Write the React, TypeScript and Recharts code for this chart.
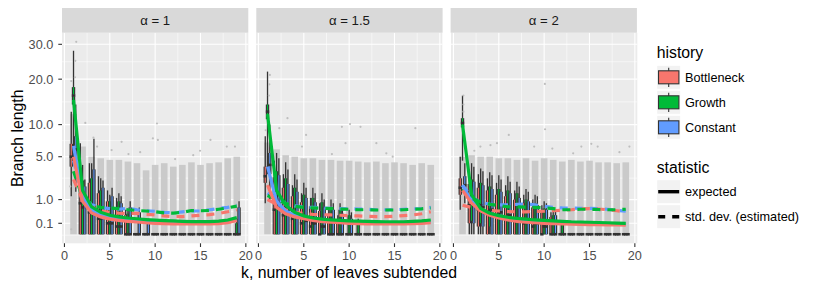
import React from 'react';
import { ComposedChart, CartesianGrid, XAxis, YAxis, Scatter, ErrorBar, Line } from 'recharts';

type Box = [number, number, number, number, number]; // lo whisker, q1, median, q3, hi whisker

const K = [1, 2, 3, 4, 5, 6, 7, 8, 9, 10, 11, 12, 13, 14, 15, 16, 17, 18, 19];
const X_TICKS = [0, 5, 10, 15, 20];
const X_MINOR = [2.5, 7.5, 12.5, 17.5];
const Y_TICKS = [0.1, 1, 5, 10, 20, 30];
const Y_MINOR = [-0.0007, 0.433, 2.618, 7.285, 14.57, 24.75];
const FACET_LABELS = ['α = 1', 'α = 1.5', 'α = 2'];

const RED = '#F8766D';
const GREEN = '#00BA38';
const BLUE = '#619CFF';
const DARK = '#333333';

// expected (solid) and std. dev. (dashed) per history
const expA1 = {
  Bottleneck: [5.0, 0.9, 0.38, 0.25, 0.19, 0.16, 0.14, 0.125, 0.11, 0.1, 0.095, 0.09, 0.09, 0.088, 0.088, 0.09, 0.095, 0.11, 0.16],
  Growth: [15, 1.6, 0.62, 0.4, 0.3, 0.25, 0.22, 0.2, 0.18, 0.165, 0.155, 0.148, 0.14, 0.135, 0.132, 0.135, 0.145, 0.17, 0.23],
  Constant: [6.5, 1.2, 0.5, 0.32, 0.25, 0.2, 0.17, 0.155, 0.14, 0.13, 0.12, 0.115, 0.11, 0.108, 0.108, 0.11, 0.12, 0.14, 0.19],
};
const sdA1 = {
  Bottleneck: [2.5, 0.95, 0.62, 0.45, 0.4, 0.37, 0.36, 0.36, 0.33, 0.31, 0.28, 0.26, 0.26, 0.28, 0.3, 0.32, 0.36, 0.42, 0.5],
  Growth: [3.3, 1.1, 0.68, 0.6, 0.57, 0.55, 0.5, 0.47, 0.45, 0.42, 0.38, 0.37, 0.4, 0.47, 0.46, 0.47, 0.52, 0.58, 0.66],
  Constant: [4.5, 1.2, 0.72, 0.6, 0.55, 0.52, 0.56, 0.5, 0.46, 0.44, 0.4, 0.38, 0.42, 0.45, 0.45, 0.5, 0.55, 0.6, 0.7],
};
const expA15 = {
  Bottleneck: [2.0, 0.6, 0.35, 0.25, 0.2, 0.16, 0.13, 0.12, 0.11, 0.1, 0.095, 0.09, 0.09, 0.09, 0.09, 0.09, 0.095, 0.1, 0.11],
  Growth: [12, 1.6, 0.7, 0.4, 0.28, 0.22, 0.19, 0.17, 0.16, 0.15, 0.145, 0.14, 0.135, 0.13, 0.13, 0.13, 0.14, 0.15, 0.17],
  Constant: [3.8, 0.9, 0.45, 0.3, 0.23, 0.19, 0.16, 0.14, 0.13, 0.12, 0.115, 0.11, 0.11, 0.11, 0.11, 0.11, 0.115, 0.12, 0.13],
};
const sdA15 = {
  Bottleneck: [1.0, 0.75, 0.5, 0.4, 0.36, 0.33, 0.32, 0.31, 0.3, 0.29, 0.28, 0.27, 0.26, 0.26, 0.27, 0.29, 0.31, 0.35, 0.42],
  Growth: [1.25, 1.0, 0.8, 0.65, 0.6, 0.58, 0.56, 0.55, 0.53, 0.52, 0.5, 0.5, 0.49, 0.49, 0.49, 0.5, 0.52, 0.54, 0.57],
  Constant: [1.4, 1.05, 0.8, 0.67, 0.62, 0.6, 0.58, 0.56, 0.55, 0.54, 0.53, 0.52, 0.5, 0.5, 0.5, 0.52, 0.54, 0.55, 0.6],
};
const expA2 = {
  Bottleneck: [1.6, 0.8, 0.45, 0.3, 0.22, 0.17, 0.14, 0.12, 0.11, 0.1, 0.095, 0.09, 0.085, 0.08, 0.078, 0.075, 0.073, 0.072, 0.07],
  Growth: [10, 1.3, 0.55, 0.37, 0.29, 0.24, 0.21, 0.19, 0.17, 0.16, 0.15, 0.14, 0.13, 0.125, 0.12, 0.115, 0.11, 0.105, 0.1],
  Constant: [2.0, 0.9, 0.5, 0.33, 0.25, 0.2, 0.17, 0.15, 0.13, 0.12, 0.11, 0.105, 0.1, 0.095, 0.09, 0.088, 0.085, 0.083, 0.08],
};
const sdA2 = {
  Bottleneck: [0.7, 0.6, 0.5, 0.47, 0.45, 0.43, 0.42, 0.42, 0.43, 0.44, 0.46, 0.48, 0.5, 0.53, 0.55, 0.53, 0.5, 0.46, 0.42],
  Growth: [1.7, 1.1, 0.85, 0.75, 0.68, 0.63, 0.62, 0.61, 0.6, 0.58, 0.55, 0.5, 0.5, 0.52, 0.52, 0.51, 0.5, 0.5, 0.52],
  Constant: [2.0, 1.15, 0.85, 0.75, 0.72, 0.72, 0.74, 0.76, 0.72, 0.65, 0.6, 0.58, 0.57, 0.56, 0.56, 0.55, 0.52, 0.48, 0.44],
};

const Z: Box = [0, 0, 0, 0, 0];

const boxA1 = {
  Bottleneck: [
    [1.2, 3.8, 5.0, 6.8, 12.5], [0, 0, 0.8, 3.0, 6.9], [0, 0, 0.4, 2.2, 4.2], [0, 0, 0.2, 1.4, 2.8],
    [0, 0, 0.1, 0.9, 1.6], [0, 0, 0.05, 0.6, 1.1], [0, 0, 0, 0.3, 0.5],
    Z, Z, Z, Z, Z, Z, Z, Z, Z, Z, Z, Z,
  ] as Box[],
  Growth: [
    [4, 14, 16, 18, 28], [0, 0, 0.6, 2.4, 4.0], [0, 0, 0.5, 2.6, 4.2], [0, 0, 0.2, 1.6, 2.6],
    [0, 0, 0.1, 0.9, 1.3], [0, 0, 0.05, 0.9, 1.4], [0, 0, 0, 0.35, 0.5],
    Z, Z, Z, Z, Z, Z, Z, Z, Z, Z, Z, [0, 0, 0, 0.1, 0.2],
  ] as Box[],
  Constant: [
    [1.5, 4.5, 6, 8, 14], [0, 0, 0.8, 1.9, 2.5], [0, 0, 0.6, 3.5, 7.6], [0, 0, 0.3, 1.8, 2.4],
    [0, 0, 0.1, 1.2, 1.8], [0, 0, 0.05, 0.8, 1.2], [0, 0, 0, 0.6, 0.9], [0, 0, 0, 0.4, 0.6], [0, 0, 0, 0.1, 0.2],
    Z, Z, Z, Z, Z, Z, Z, Z, Z, [0, 0, 0, 0.6, 0.9],
  ] as Box[],
};
const boxA15 = {
  Bottleneck: [
    [0.8, 2.2, 2.8, 3.8, 8], [0, 0, 0.5, 2.7, 4.5], [0, 0, 0.3, 1.8, 3.0], [0, 0, 0.2, 1.2, 2.0],
    [0, 0, 0.1, 0.85, 1.4], [0, 0, 0.05, 0.65, 1.1], [0, 0, 0, 0.45, 0.8], [0, 0, 0, 0.3, 0.5], [0, 0, 0, 0.15, 0.3],
    Z, Z, Z, Z, Z, Z, Z, Z, Z, Z,
  ] as Box[],
  Growth: [
    [3, 11, 12.5, 14, 22], [0, 0, 1.0, 3.3, 5.5], [0, 0, 0.6, 2.6, 4.3], [0, 0, 0.4, 1.8, 3.0],
    [0, 0, 0.2, 1.3, 2.2], [0, 0, 0.1, 1.1, 1.8], [0, 0, 0.05, 0.85, 1.4], [0, 0, 0, 0.6, 1.0], [0, 0, 0, 0.5, 0.8],
    [0, 0, 0, 0.3, 0.5], [0, 0, 0, 0.1, 0.2],
    Z, Z, Z, Z, Z, Z, Z, Z,
  ] as Box[],
  Constant: [
    [1, 3, 4, 5.5, 10], [0, 0, 0.8, 2.9, 4.8], [0, 0, 0.5, 2.1, 3.5], [0, 0, 0.3, 1.5, 2.5],
    [0, 0, 0.15, 1.1, 1.8], [0, 0, 0.1, 0.85, 1.4], [0, 0, 0.05, 0.6, 1.0], [0, 0, 0, 0.5, 0.8], [0, 0, 0, 0.35, 0.6],
    [0, 0, 0, 0.2, 0.4],
    Z, Z, Z, Z, Z, Z, Z, Z, Z,
  ] as Box[],
};
const boxA2 = {
  Bottleneck: [
    [0.5, 1.3, 1.8, 2.6, 5], [0, 0.1, 0.7, 2.1, 3.5], [0, 0.05, 0.5, 1.8, 3.0], [0, 0, 0.4, 1.6, 2.6],
    [0, 0, 0.3, 1.3, 2.2], [0, 0, 0.2, 1.2, 2.0], [0, 0, 0.15, 1.0, 1.6], [0, 0, 0.1, 0.8, 1.3], [0, 0, 0.05, 0.6, 1.0],
    [0, 0, 0, 0.4, 0.7], [0, 0, 0, 0.25, 0.4],
    Z, Z, Z, Z, Z, Z, Z, Z,
  ] as Box[],
  Growth: [
    [4.5, 9.5, 10.3, 11.2, 16], [0, 0.15, 1.0, 2.5, 4.2], [0, 0.1, 0.7, 2.2, 3.6], [0, 0.05, 0.5, 1.9, 3.2],
    [0, 0, 0.4, 1.7, 2.9], [0, 0, 0.3, 1.6, 2.8], [0, 0, 0.2, 1.4, 2.3], [0, 0, 0.15, 1.0, 1.7], [0, 0, 0.1, 0.8, 1.3],
    [0, 0, 0.05, 0.55, 0.9], [0, 0, 0, 0.3, 0.5], [0, 0, 0, 0.08, 0.15],
    Z, Z, Z, Z, Z, Z, Z,
  ] as Box[],
  Constant: [
    [0.8, 1.5, 2.0, 2.8, 4.2], [0, 0.1, 0.8, 2.3, 3.8], [0, 0.05, 0.6, 2.0, 3.3], [0, 0, 0.5, 1.7, 2.9],
    [0, 0, 0.4, 1.5, 2.5], [0, 0, 0.3, 1.4, 2.3], [0, 0, 0.2, 1.1, 1.9], [0, 0, 0.15, 0.9, 1.5], [0, 0, 0.1, 0.7, 1.2],
    [0, 0, 0.05, 0.5, 0.8], [0, 0, 0, 0.3, 0.5],
    Z, Z, Z, Z, Z, Z, Z, Z,
  ] as Box[],
};

// top of the dense cloud of jittered points at each k
const cloudA1 = [12, 6.4, 5.0, 4.8, 4.6, 4.6, 4.4, 4.2, 3.4, 4.0, 4.2, 3.8, 4.0, 4.3, 4.0, 4.2, 4.3, 4.8, 5.0];
const cloudA15 = [7, 6.0, 5.2, 5.0, 4.8, 4.8, 4.6, 4.6, 4.5, 4.5, 4.4, 4.3, 4.4, 4.2, 4.3, 4.2, 4.0, 4.2, 4.0];
const cloudA2 = [5, 5.2, 5.0, 5.0, 4.8, 4.8, 4.6, 4.8, 4.5, 4.8, 4.6, 4.4, 4.6, 4.4, 4.5, 4.3, 4.3, 4.2, 4.3];

// sparse points above the clouds [k, value]
const outA1 = [[2.3, 10.3], [3.2, 7.75], [3.6, 6.4], [5.2, 5.9], [6.3, 7.1], [7.06, 5.35], [8.35, 5.6], [9.75, 7.65],
  [10.2, 10.2], [10.3, 7.4], [12.2, 4.7], [14.2, 5.2], [14.95, 5.8], [16.1, 7.4], [17.9, 6.4], [18.8, 6.4],
  [0.64, 1.9], [0.75, 0.02], [1.0, 12.8], [1.3, 30.8], [1.2, 25], [0.75, 19.5], [1.15, 20.5], [1.05, 16]];
const outA15 = [[1.26, 21.1], [1.2, 18.7], [1.15, 16], [0.8, 9], [3.2, 11.2], [5.25, 8.2], [4.8, 6.4], [2.3, 9.35],
  [9.2, 9.6], [10.1, 10.1], [11.25, 9.6], [9.6, 6.9], [13, 6.9], [14.1, 5.45], [17.3, 9.35], [14.8, 5], [8.1, 5.35]];
const outA2 = [[10.08, 18.8], [10.1, 9.17], [6.1, 8.2], [2.97, 6.4], [4.08, 6.6], [4.8, 6.9], [8.9, 6.4], [10.9, 6.1],
  [14.1, 6.4], [15.2, 6.8], [15.9, 6.4], [19.4, 6.4], [18.3, 5.6], [13.2, 5.45], [1.1, 16], [1.1, 14], [1.1, 12.5], [2.3, 5.8]];

const HISTORY = [
  { name: 'Bottleneck', color: RED, dodge: -0.25 },
  { name: 'Growth', color: GREEN, dodge: 0 },
  { name: 'Constant', color: BLUE, dodge: 0.25 },
];
const LINE_ORDER = ['Constant', 'Bottleneck', 'Growth'];
const COLOR: Record<string, string> = { Bottleneck: RED, Growth: GREEN, Constant: BLUE };

const PANEL_W = 186.3;
const PANEL_LEFT = [62, 256.3, 450.6];
const PANEL_TOP = 32.7;
const PANEL_BOTTOM = 243.3;

const facets = [
  { exp: expA1, sd: sdA1, box: boxA1, cloud: cloudA1, out: outA1 },
  { exp: expA15, sd: sdA15, box: boxA15, cloud: cloudA15, out: outA15 },
  { exp: expA2, sd: sdA2, box: boxA2, cloud: cloudA2, out: outA2 },
];

const hidden = () => <circle r={0} />;
const medianTick = (p: any) => (
  <rect x={p.cx - 1.7} y={p.cy - 1.3} width={3.4} height={2.6} fill={DARK} />
);
const dot = (p: any) => <circle cx={p.cx} cy={p.cy} r={1.1} fill="#BEBEBE" />;

function Facet({ idx }: { idx: number }) {
  const f = facets[idx];
  const showY = idx === 0;
  const leftM = showY ? 62 : 8;
  const lineRows = K.map((k, i) => {
    const row: any = { x: k };
    HISTORY.forEach((h) => {
      row[h.name + 'E'] = (f.exp as any)[h.name][i];
      row[h.name + 'S'] = (f.sd as any)[h.name][i];
    });
    return row;
  });
  const cloudRows = K.map((k, i) => ({ x: k, y: 0, w: [0, f.cloud[i]] }));
  const outRows = f.out.map(([k, v]) => ({ x: k, y: v }));

  return (
    <div style={{ position: 'absolute', left: PANEL_LEFT[idx] - leftM, top: 0 }}>
      <ComposedChart
        width={leftM + PANEL_W + 8}
        height={290}
        data={lineRows}
        margin={{ top: PANEL_TOP, right: 8, bottom: 0, left: showY ? 0 : 8 }}
      >
        <CartesianGrid fill="#EBEBEB" stroke="#FFFFFF" strokeWidth={0.55} horizontalValues={Y_MINOR} verticalValues={X_MINOR} />
        <CartesianGrid fill="none" stroke="#FFFFFF" strokeWidth={1.1} horizontalValues={Y_TICKS} verticalValues={X_TICKS} />
        <XAxis
          type="number"
          dataKey="x"
          domain={[-0.27, 20.27]}
          ticks={X_TICKS}
          interval={0}
          allowDataOverflow
          height={290 - PANEL_BOTTOM}
          axisLine={false}
          tickSize={3.7}
          tickMargin={4}
          tickLine={{ stroke: DARK, strokeWidth: 1.1 }}
          tick={{ fill: '#4D4D4D', fontSize: 12.7 }}
        />
        <YAxis
          type="number"
          dataKey="y"
          scale="sqrt"
          domain={[-0.0678, 33.78]}
          ticks={Y_TICKS}
          interval={0}
          allowDataOverflow
          hide={!showY}
          width={62}
          axisLine={false}
          tickSize={3.7}
          tickMargin={5}
          tickLine={{ stroke: DARK, strokeWidth: 1.1 }}
          tick={{ fill: '#4D4D4D', fontSize: 12.7 }}
          tickFormatter={(v: number) => v.toFixed(1)}
        />
        <Scatter data={cloudRows} shape={hidden} isAnimationActive={false}>
          <ErrorBar dataKey="w" direction="y" width={0} stroke="#CACACA" strokeWidth={6.6} />
        </Scatter>
        <Scatter data={outRows} shape={dot} isAnimationActive={false} />
        {HISTORY.map((h) => {
          const rows = ((f.box as any)[h.name] as Box[]).map(([lo, q1, med, q3, hi], i) => ({
            x: K[i] + h.dodge,
            y: med,
            w: [med - lo, hi - med],
            b: [med - q1, q3 - med],
          }));
          return (
            <Scatter key={h.name} data={rows} shape={medianTick} isAnimationActive={false}>
              <ErrorBar dataKey="w" direction="y" width={0} stroke={DARK} strokeWidth={1.3} />
              <ErrorBar dataKey="b" direction="y" width={0} stroke={DARK} strokeWidth={3.4} />
              <ErrorBar dataKey="b" direction="y" width={0} stroke={h.color} strokeWidth={1.1} />
            </Scatter>
          );
        })}
        {LINE_ORDER.map((n) => (
          <Line
            key={n + 'S'}
            dataKey={n + 'S'}
            type="linear"
            stroke={COLOR[n]}
            strokeWidth={3.2}
            strokeDasharray="8 7"
            dot={false}
            activeDot={false}
            isAnimationActive={false}
            zIndex={1500}
          />
        ))}
        {LINE_ORDER.map((n) => (
          <Line
            key={n + 'E'}
            dataKey={n + 'E'}
            type="linear"
            stroke={COLOR[n]}
            strokeWidth={3.2}
            dot={false}
            activeDot={false}
            isAnimationActive={false}
            zIndex={1500}
          />
        ))}
      </ComposedChart>
    </div>
  );
}

function Legend() {
  const keyX = 656.7;
  const histTops = [65.3, 90.3, 115.3];
  const statTops = [179.7, 204.7];
  return (
    <g>
      <text x={keyX} y={58.2} fontSize={15.8} fill="#000">history</text>
      {HISTORY.map((h, i) => (
        <g key={h.name}>
          <rect x={keyX} y={histTops[i]} width={24} height={24} fill="#F2F2F2" stroke="#FFFFFF" strokeWidth={1} />
          <line x1={keyX + 12} x2={keyX + 12} y1={histTops[i] + 2.4} y2={histTops[i] + 21.6} stroke={DARK} strokeWidth={1.1} />
          <rect x={keyX + 1.8} y={histTops[i] + 5.5} width={20.4} height={13} fill={h.color} stroke={DARK} strokeWidth={1.1} />
          <text x={685} y={histTops[i] + 17} fontSize={12.7} fill="#000">{h.name}</text>
        </g>
      ))}
      <text x={keyX} y={173.2} fontSize={15.8} fill="#000">statistic</text>
      {['expected', 'std. dev. (estimated)'].map((s, i) => (
        <g key={s}>
          <rect x={keyX} y={statTops[i]} width={24} height={24} fill="#F2F2F2" stroke="#FFFFFF" strokeWidth={1} />
          <line
            x1={keyX + 1.5}
            x2={keyX + 22.5}
            y1={statTops[i] + 12}
            y2={statTops[i] + 12}
            stroke="#000"
            strokeWidth={3.4}
            strokeDasharray={i === 1 ? '7 7' : undefined}
          />
          <text x={685} y={statTops[i] + 16.6} fontSize={12.7} fill="#000">{s}</text>
        </g>
      ))}
    </g>
  );
}

export default function App() {
  return (
    <div
      style={{
        position: 'relative',
        width: 830,
        height: 290,
        margin: -8,
        background: '#FFFFFF',
        fontFamily: '"Liberation Sans", Arial, sans-serif',
        overflow: 'hidden',
      }}
    >
      {[0, 1, 2].map((i) => (
        <Facet key={i} idx={i} />
      ))}
      <svg width={830} height={290} style={{ position: 'absolute', left: 0, top: 0, pointerEvents: 'none' }}>
        {PANEL_LEFT.map((l, i) => (
          <g key={i}>
            <rect x={l} y={7} width={PANEL_W} height={PANEL_TOP - 7} fill="#D9D9D9" />
            <text x={l + PANEL_W / 2} y={24.7} textAnchor="middle" fontSize={13.2} fill="#1A1A1A">
              {FACET_LABELS[i]}
            </text>
          </g>
        ))}
        <text transform="translate(22.5,138.3) rotate(-90)" textAnchor="middle" fontSize={15.8} fill="#000">
          Branch length
        </text>
        <text x={349} y={277.5} textAnchor="middle" fontSize={15.8} fill="#000">
          k, number of leaves subtended
        </text>
        <Legend />
      </svg>
    </div>
  );
}
